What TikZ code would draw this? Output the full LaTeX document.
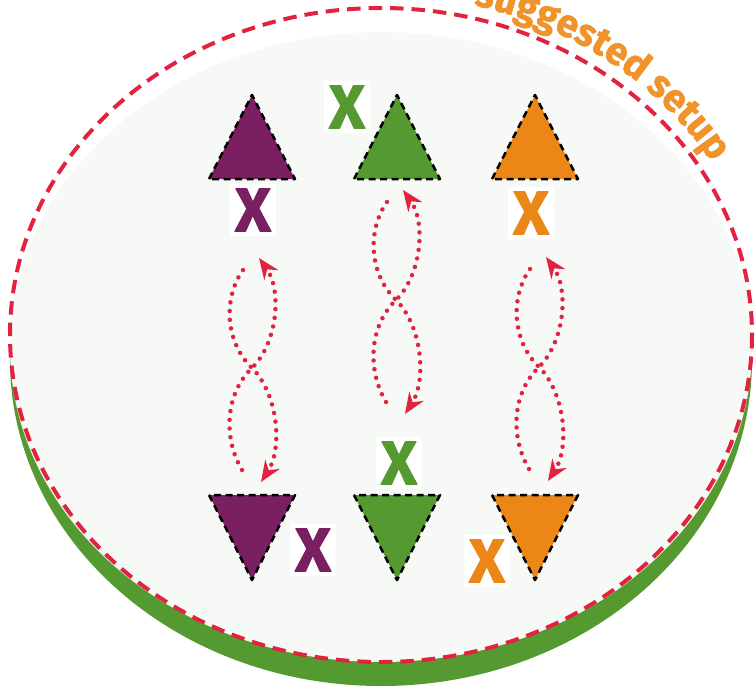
\documentclass[tikz,border=0pt]{standalone}
\usepackage{fontspec}
\setmainfont{Fira Sans}
\newfontfamily\heavyfont[BoldFeatures={FakeBold=1.6}]{Fira Sans}
\usetikzlibrary{arrows.meta,decorations.text}
\definecolor{setred}{HTML}{E2233F}
\definecolor{plum}{HTML}{7A1F5F}
\definecolor{leaf}{HTML}{549A31}
\definecolor{amber}{HTML}{EC8717}
\definecolor{titlecol}{HTML}{F0932B}
\definecolor{paper}{HTML}{F7F9F7}

\begin{document}
\begin{tikzpicture}[
  x=0.2mm, y=-0.2mm, line join=round,
  tri/.style={draw=black, line width=0.5mm, dash pattern=on 1.4mm off 0.9mm},
  xmark/.style={fill=white, inner sep=1mm,
               font=\heavyfont\bfseries\fontsize{35}{35}\selectfont},
  loopeight/.style={setred, line width=0.9mm, line cap=round,
               dash pattern=on 0pt off 1.75mm,
               -{Stealth[length=4.2mm,width=3.4mm,inset=1.4mm]}}]

\def\xa{252}   % plum column
\def\xb{397}   % leaf column
\def\xc{535}   % amber column

\useasboundingbox (0,0) rectangle (756,688);

% ---------------------------------------------------------------- dish
\fill[leaf]  (381,360) ellipse [x radius=371, y radius=326];
\fill[paper] (381,347) ellipse [x radius=371, y radius=315];
\draw[setred, line width=0.8mm, dash pattern=on 2.7mm off 1.6mm]
  (381,335) ellipse [x radius=371, y radius=327];

% ---------------------------------------------------------------- title on the rim
\path[decorate, decoration={text along path, text align=left, text color=titlecol,
    text={|\heavyfont\bfseries\fontsize{22}{22}\selectfont|suggested setup}}]
  (381,335) ++(-76:384 and 340)
  arc[start angle=-76, end angle=-12, x radius=384, y radius=340];

% ---------------------------------------------------------------- triangles
\foreach \cx/\col in {\xa/plum, \xb/leaf, \xc/amber} {
  \draw[tri, fill=\col] (\cx-43,179) -- (\cx,95) -- (\cx+43,179) -- cycle;
  \draw[tri, fill=\col] (\cx-43,495) -- (\cx,580) -- (\cx+43,495) -- cycle;
}

% ---------------------------------------------------------------- figure eights
\foreach \cx/\cy in {252/368, 396/300, 539/367} {
  \begin{scope}[shift={(\cx,\cy)}]
    \draw[loopeight] (-10,102) .. controls (-29,70) and (-27,26) .. (0,0)
      .. controls (26,-26) and (30,-78) .. (7,-110);
    \draw[loopeight] (-9,-98) .. controls (-29,-70) and (-27,-26) .. (0,0)
      .. controls (26,26) and (31,80) .. (9,114);
  \end{scope}
}

% ---------------------------------------------------------------- marks
\node[xmark, text=plum]  (xplumtop)  at (253,210) {X};
\node[xmark, text=leaf]  (xleaftop)  at (347,107) {X};
\node[xmark, text=amber] (xambertop) at (531,213) {X};
\node[xmark, text=leaf]  (xleafbot)  at (399,463) {X};
\node[xmark, text=plum]  (xplumbot)  at (313,550) {X};
\node[xmark, text=amber] (xamberbot) at (487,561) {X};

\end{tikzpicture}
\end{document}
